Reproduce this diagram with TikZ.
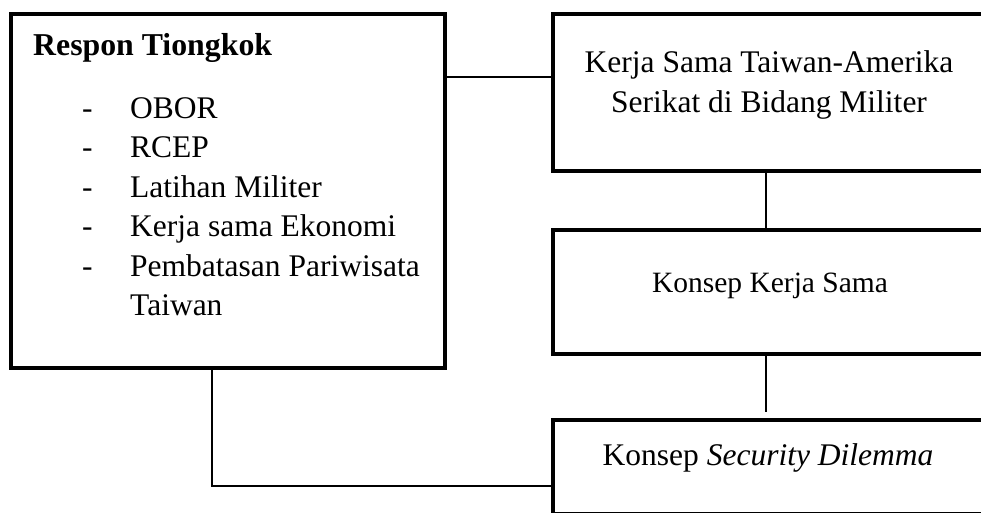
\documentclass[tikz,border=0pt]{standalone}
\usepackage{fontspec}
\setmainfont{Liberation Serif}
\usetikzlibrary{calc}

\tikzset{
	kotak/.style={draw, line width=4pt, inner sep=0pt, outer sep=0pt, anchor=north west},
	garis/.style={line width=1.5pt},
	teks/.style={inner sep=0pt, anchor=base west},
	besar/.style={font=\fontsize{31.5}{39.5}\selectfont},
	tebal/.style={font=\fontsize{31.8}{39.5}\selectfont\bfseries},
	sedang/.style={font=\fontsize{29.5}{36}\selectfont}
}

\begin{document}
\begin{tikzpicture}[x=1pt, y=-1pt]
		\useasboundingbox (0,0) rectangle (981,512);
		\clip (0,0) rectangle (981,512);

		\node[kotak, minimum width=434pt, minimum height=353.5pt] (respon) at (11,14) {};
		\node[kotak, minimum width=435pt, minimum height=157pt] (kerjasama) at (553,14) {};
		\node[kotak, minimum width=435pt, minimum height=124pt] (konsep) at (553,230) {};
		\node[kotak, minimum width=435pt, minimum height=93.5pt] (dilema) at (553,420) {};

		\node[teks, tebal] (judul) at (33,55) {Respon Tiongkok};
		\foreach \isi [count=\i] in {OBOR, RCEP, Latihan Militer, Kerja sama Ekonomi, Pembatasan Pariwisata}{
			\node[teks, besar] (strip\i) at (82, {79+39.4*\i}) {-};
			\node[teks, besar] (poin\i) at (130, {79+39.4*\i}) {\isi};
		}
		\node[teks, besar] (poin6) at (130,315) {Taiwan};

		\node[teks, besar, anchor=base] (kerja1) at (769,72) {Kerja Sama Taiwan-Amerika};
		\node[teks, besar, anchor=base] (kerja2) at (769,112) {Serikat di Bidang Militer};
		\node[teks, sedang, anchor=base] (kerja3) at (770,292) {Konsep Kerja Sama};
		\node[teks, besar, anchor=base] (dilema1) at (768,465) {Konsep \textit{Security Dilemma}};

		\coordinate (titik1) at ($(kerjasama.north west)+(0,63)$);
		\coordinate (tengah) at (766,0);
		\coordinate (ujung) at ($(dilema.north -| tengah)+(0,-8)$);
		\coordinate (belok) at (212,486);

		\draw[garis] (titik1 -| respon.east) -- (titik1);
		\draw[garis] (kerjasama.south -| tengah) -- (konsep.north -| tengah);
		\draw[garis] (konsep.south -| tengah) -- (ujung);
		\draw[garis] (respon.south -| belok) -- (belok) -- (belok -| dilema.west);
	\end{tikzpicture}
\end{document}
